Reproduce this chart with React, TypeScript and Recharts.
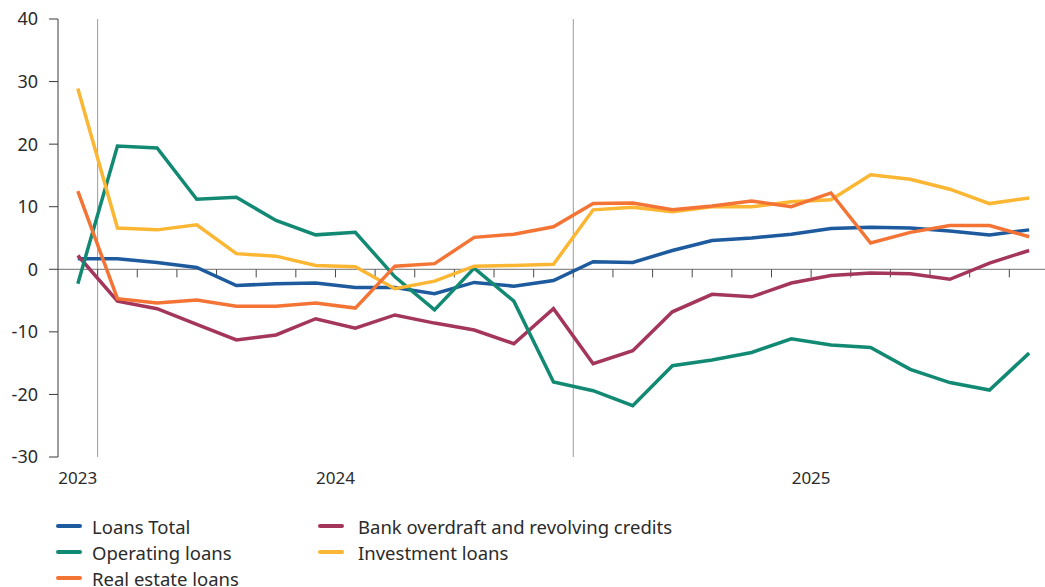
import { LineChart, Line, XAxis, YAxis, ReferenceLine, Legend } from "recharts";

// monthly growth, % y/y — 25 observations, index 0 = first month shown
const loansTotal = [1.7, 1.7, 1.1, 0.3, -2.6, -2.3, -2.2, -2.9, -2.9, -3.9, -2.1, -2.7, -1.8, 1.2, 1.1, 3.0, 4.6, 5.0, 5.6, 6.5, 6.7, 6.6, 6.1, 5.5, 6.3];
const bankOverdraft = [2.2, -5.1, -6.3, -8.8, -11.3, -10.5, -7.9, -9.4, -7.3, -8.6, -9.7, -11.9, -6.3, -15.1, -13.0, -6.8, -4.0, -4.4, -2.2, -1.0, -0.6, -0.7, -1.6, 1.0, 3.0];
const operatingLoans = [-2.3, 19.7, 19.4, 11.2, 11.5, 7.8, 5.5, 5.9, -1.2, -6.5, 0.2, -5.1, -18.0, -19.4, -21.8, -15.4, -14.5, -13.3, -11.1, -12.1, -12.5, -16.0, -18.1, -19.3, -13.4];
const investmentLoans = [28.9, 6.6, 6.3, 7.1, 2.5, 2.1, 0.6, 0.4, -3.1, -1.9, 0.5, 0.6, 0.8, 9.5, 9.9, 9.2, 10.0, 10.0, 10.8, 11.1, 15.1, 14.4, 12.8, 10.5, 11.4];
const realEstateLoans = [12.5, -4.7, -5.4, -4.9, -5.9, -5.9, -5.4, -6.2, 0.5, 0.9, 5.1, 5.6, 6.8, 10.5, 10.6, 9.5, 10.1, 10.9, 10.0, 12.2, 4.2, 5.9, 7.0, 7.0, 5.2];

const yearTicks = [0, 6.5, 18.5];
const yearLabels = ["2023", "2024", "2025"];
const yTicks = [-30, -20, -10, 0, 10, 20, 30, 40];
const monthTicks = Array.from({ length: 24 }, (_, k) => k + 0.5);
const yearBreaks = [0.5, 12.5];

const FONT = "'Noto Sans', 'Open Sans', sans-serif";
const TEXT = "#2b2b2b";

const series = [
  { key: "total", name: "Loans Total", color: "#1d5a9e", values: loansTotal },
  { key: "overdraft", name: "Bank overdraft and revolving credits", color: "#a4365c", values: bankOverdraft },
  { key: "operating", name: "Operating loans", color: "#128a73", values: operatingLoans },
  { key: "investment", name: "Investment loans", color: "#fbb633", values: investmentLoans },
  { key: "realEstate", name: "Real estate loans", color: "#f47436", values: realEstateLoans },
];

const data = loansTotal.map((_, i) => {
  const row: Record<string, number> = { i };
  series.forEach(s => (row[s.key] = s.values[i]));
  return row;
});

// legend laid out as in the source: two columns
const legendCols: { left: number; gap: number; keys: string[] }[] = [
  { left: 56, gap: 10, keys: ["total", "operating", "realEstate"] },
  { left: 318, gap: 14, keys: ["overdraft", "investment"] },
];

function LoanLegend() {
  return (
    <div style={{ position: "relative", width: 720, height: 80, fontFamily: FONT }}>
      {legendCols.map(col =>
        col.keys.map((k, r) => {
          const s = series.find(x => x.key === k)!;
          return (
            <div
              key={k}
              style={{
                position: "absolute",
                left: col.left,
                top: r * 26,
                height: 26,
                display: "flex",
                alignItems: "center",
                whiteSpace: "nowrap",
              }}
            >
              <span style={{ width: 26, height: 4, borderRadius: 2, background: s.color, marginRight: col.gap }} />
              <span style={{ fontSize: 18.5, color: TEXT }}>{s.name}</span>
            </div>
          );
        }),
      )}
    </div>
  );
}

export default function App() {
  return (
    <div style={{ position: "absolute", left: 0, top: 0, fontFamily: FONT }}>
      <LineChart width={1045} height={587} data={data} margin={{ top: 19, right: 0, left: 0, bottom: 0 }}>
        <XAxis
          type="number"
          dataKey="i"
          domain={[-0.5, 24.4]}
          ticks={yearTicks}
          tickFormatter={v => yearLabels[yearTicks.indexOf(Number(v))] ?? ""}
          axisLine={false}
          tickLine={false}
          tickMargin={9}
          height={130}
          tick={{ fontSize: 17, fill: TEXT, fontFamily: FONT }}
          allowDataOverflow
        />
        <YAxis
          domain={[-30, 40]}
          ticks={yTicks}
          width={58}
          axisLine={{ stroke: "#3a3a3a", strokeWidth: 1 }}
          tickLine={{ stroke: "#3a3a3a", strokeWidth: 1 }}
          tickSize={9}
          tickMargin={11}
          tick={{ fontSize: 18, fill: TEXT, fontFamily: FONT }}
          interval={0}
        />
        {yearBreaks.map(x => (
          <ReferenceLine key={`v-${x}`} x={x} stroke="#9c9c9c" strokeWidth={1} />
        ))}
        <ReferenceLine y={0} stroke="#6e6e6e" strokeWidth={1} />
        {monthTicks.map(t => (
          <ReferenceLine
            key={`t-${t}`}
            segment={[{ x: t, y: 0 }, { x: t, y: -1.3 }]}
            stroke="#4a4a4a"
            strokeWidth={1}
          />
        ))}
        {series.map(s => (
          <Line
            key={s.key}
            type="linear"
            dataKey={s.key}
            name={s.name}
            stroke={s.color}
            strokeWidth={3.5}
            dot={false}
            activeDot={false}
            isAnimationActive={false}
          />
        ))}
        <Legend
          layout="horizontal"
          verticalAlign="middle"
          align="center"
          wrapperStyle={{ left: 0, top: 513, width: 720 }}
          content={() => <LoanLegend />}
        />
      </LineChart>
    </div>
  );
}
